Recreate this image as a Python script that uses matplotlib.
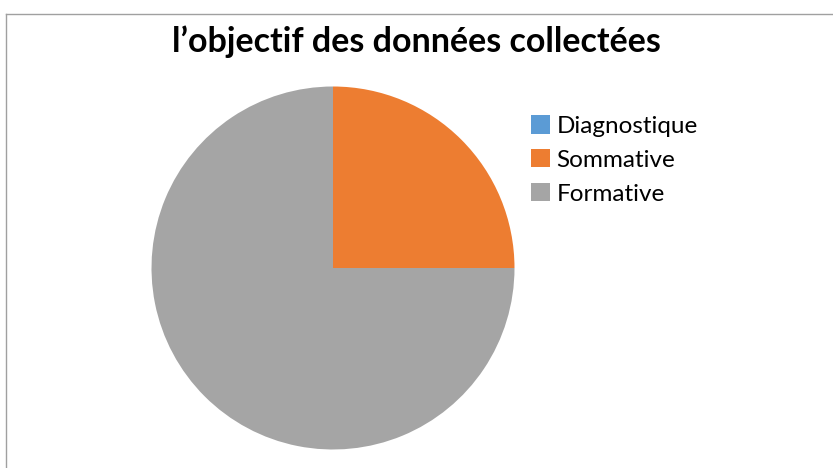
import matplotlib.pyplot as plt
from matplotlib.patches import Patch
from matplotlib.lines import Line2D

labels = ['Diagnostique', 'Sommative', 'Formative']
values = [0, 25, 75]
colors = ['#5B9BD5', '#ED7D31', '#A5A5A5']
title = "l\u2019objectif des données collectées"

plt.rcParams['font.family'] = ['Lato', 'DejaVu Sans']

W, H = 833, 468
fig = plt.figure(figsize=(W / 100, H / 100), dpi=100)

# chart frame (top and left edge visible)
fig.add_artist(Line2D([6 / W, 6 / W], [0, 1 - 14 / H], color='#A0A0A0', lw=1))
fig.add_artist(Line2D([6 / W, 1], [1 - 14 / H, 1 - 14 / H], color='#A0A0A0', lw=1))

# pie
cx, cy, r = 333, 268, 181.5
ax = fig.add_axes([(cx - r) / W, (H - cy - r) / H, 2 * r / W, 2 * r / H])
ax.pie(values, colors=colors, startangle=90, counterclock=False,
       radius=1, wedgeprops=dict(linewidth=0))
ax.set_xlim(-1, 1)
ax.set_ylim(-1, 1)
ax.set_aspect('equal')
ax.axis('off')

fig.text(416 / W, 1 - 42 / H, title, ha='center', va='center',
         fontsize=24.5, fontweight='bold', color='#000000')

handles = [Patch(facecolor=c, edgecolor='none') for c in colors]
fig.legend(handles, labels, loc='upper left', bbox_to_anchor=(531 / W, 1 - 115 / H),
           frameon=False, fontsize=17.5, handlelength=0.8, handleheight=0.8,
           handletextpad=0.25, labelspacing=0.5, borderpad=0, borderaxespad=0)

fig.savefig('out.png', dpi=100)
